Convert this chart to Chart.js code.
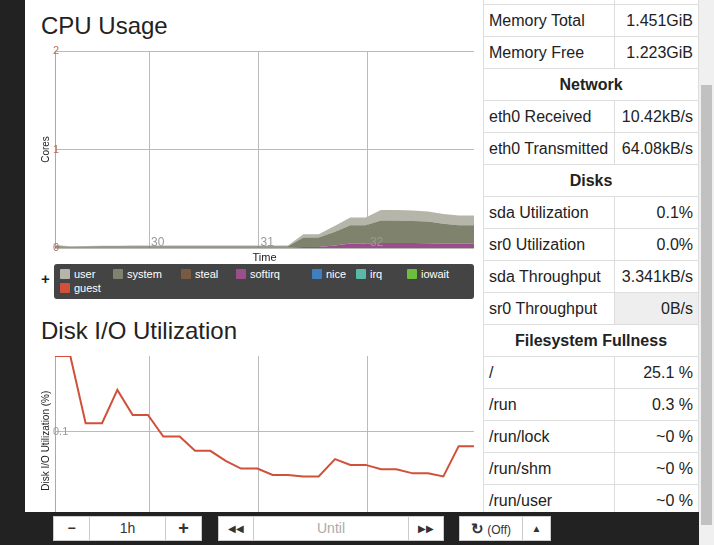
<!DOCTYPE html>
<html>
<head>
<meta charset="utf-8">
<script src="https://cdn.jsdelivr.net/npm/chart.js@4"></script>
<style>
  body { margin:0; width:714px; height:545px; overflow:hidden; background:#fff; font-family:"Liberation Sans", Arial, sans-serif; position:relative; }
  .strip { position:absolute; left:0; top:0; width:25px; height:545px; background:#222; }
  .scroll { position:absolute; left:699px; top:0; width:15px; height:545px; background:#f0f0f0; }
  .thumb { position:absolute; left:701px; top:85px; width:11px; height:440px; background:#c1c1c1; }
  h2 { position:absolute; margin:0; font-weight:normal; font-size:24px; color:#222; left:41px; }
  canvas { position:absolute; }
  #legend { position:absolute; left:54px; top:264px; width:420px; height:35px; background:#444; border-radius:3px; color:#fff; font-size:11px; }
  #legend span { position:absolute; }
  #legend i { display:inline-block; width:10px; height:10px; margin-right:4px; vertical-align:-1px; border-radius:1px; }
  .plus { position:absolute; left:41px; top:270px; font-size:15px; font-weight:bold; color:#123; }
  table { position:absolute; left:483px; top:-28px; width:216px; border-collapse:collapse; font-size:16px; color:#222; }
  td { border:1px solid #ddd; height:32px; padding:0 5px; box-sizing:border-box; white-space:nowrap; }
  td.v { text-align:right; width:84px; }
  td.h { text-align:center; font-weight:bold; }
  .bar { position:absolute; left:25px; top:512px; width:674px; height:33px; background:#222; }
  .btn { position:absolute; top:516px; height:25px; background:#fff; border:1px solid #ccc; box-sizing:border-box; text-align:center; line-height:23px; font-size:14px; color:#333; }
</style>
</head>
<body>
<div class="strip"></div>
<h2 style="top:12px">CPU Usage</h2>
<canvas id="cpu" width="436" height="220" style="left:40px;top:45px;width:436px;height:220px"></canvas>
<div class="plus">+</div>
<div id="legend"></div>
<h2 style="top:317px">Disk I/O Utilization</h2>
<canvas id="disk" width="436" height="180" style="left:40px;top:350px;width:436px;height:180px"></canvas>

<table id="tbl"></table>
<div class="scroll"></div>
<div class="thumb"></div>

<div class="bar"></div>
<div class="btn" style="left:53px;width:37px;font-weight:bold">&minus;</div>
<div class="btn" style="left:89px;width:77px">1h</div>
<div class="btn" style="left:165px;width:37px;font-weight:bold;font-size:18px">+</div>
<div class="btn" style="left:218px;width:36px;font-size:10px">&#9664;&#9664;</div>
<div class="btn" style="left:253px;width:156px;color:#aaa">Until</div>
<div class="btn" style="left:408px;width:36px;font-size:10px">&#9654;&#9654;</div>
<div class="btn" style="left:459px;width:64px;font-size:12px"><b style="font-size:15px">&#8635;</b> (Off)</div>
<div class="btn" style="left:522px;width:29px;font-size:10px">&#9650;</div>

<script>
// shared time axis (x positions of the samples)
const times = [29.14,29.28,29.42,29.57,29.71,29.85,29.99,30.13,30.28,30.42,30.56,30.70,30.84,30.99,
               31.13,31.27,31.41,31.55,31.70,31.84,31.98,32.12,32.26,32.41,32.55,32.69,32.83,32.97];
const timeTicks = [30, 31, 32];

// CPU cores per state
const cpuSoftirq = [0.005,0.005,0.005,0.005,0.005,0.005,0.005,0.005,0.005,0.005,0.005,0.005,0.005,0.005,
                    0.005,0.005,0.01,0.01,0.025,0.045,0.045,0.05,0.05,0.05,0.048,0.046,0.045,0.045];
const cpuSystem  = [0.015,0.008,0.01,0.012,0.012,0.012,0.012,0.012,0.012,0.012,0.012,0.012,0.012,0.012,
                    0.012,0.012,0.097,0.097,0.14,0.185,0.185,0.23,0.23,0.225,0.222,0.2,0.185,0.185];
const cpuUser    = [0.01,0.005,0.005,0.007,0.007,0.008,0.008,0.008,0.008,0.008,0.008,0.008,0.008,0.008,
                    0.008,0.008,0.033,0.033,0.06,0.08,0.08,0.105,0.105,0.105,0.1,0.1,0.1,0.1];
const cpuTicks = [0, 1, 2];

// disk utilization (%)
const diskSda = [0.15,0.15,0.1056,0.1056,0.1276,0.111,0.111,0.0967,0.0967,0.0873,0.0873,0.0807,0.0756,0.0756,
                 0.0713,0.0713,0.0704,0.0704,0.0818,0.078,0.078,0.0751,0.0751,0.0724,0.0724,0.0704,0.0904,0.0904];
const diskTicks = [0.1];

const legendNames = ['user','system','steal','softirq','nice','irq','iowait','guest'];
const legendColors = ['#b5b5aa','#7f826c','#7a5a40','#9b4f8a','#3f7fbf','#5bb8a8','#6cbf3a','#d0503a'];

const tableRows = [
  ['', ''], ['Memory Total','1.451GiB'], ['Memory Free','1.223GiB'], ['Network'],
  ['eth0 Received','10.42kB/s'], ['eth0 Transmitted','64.08kB/s'], ['Disks'],
  ['sda Utilization','0.1%'], ['sr0 Utilization','0.0%'], ['sda Throughput','3.341kB/s'],
  ['sr0 Throughput','0B/s'], ['Filesystem Fullness'], ['/','25.1 %'], ['/run','0.3 %'],
  ['/run/lock','~0 %'], ['/run/shm','~0 %'], ['/run/user','~0 %']
];

// build table
let tbl = document.getElementById('tbl');
for (let r of tableRows) {
  let tr = document.createElement('tr');
  if (r.length === 1) {
    tr.innerHTML = '<td class="h" colspan="2">' + r[0] + '</td>';
  } else {
    let bg = r[0] === 'sr0 Throughput' ? ' style="background:#eee"' : '';
    tr.innerHTML = '<td>' + r[0] + '</td><td class="v"' + bg + '>' + r[1] + '</td>';
  }
  tbl.appendChild(tr);
}

// legend
let legend = document.getElementById('legend');
let lx = [6, 59, 127, 182, 258, 302, 353, 6];
legendNames.forEach((n, i) => {
  let s = document.createElement('span');
  s.style.left = lx[i] + 'px';
  s.style.top = (i < 7 ? 4 : 18) + 'px';
  s.innerHTML = '<i style="background:' + legendColors[i] + '"></i>' + n;
  legend.appendChild(s);
});

// draws the x tick labels just right of each grid line, inside the plot
const innerXLabels = {
  id: 'innerXLabels',
  afterDraw(chart, args, opts) {
    if (!opts.show) return;
    const ctx = chart.ctx, x = chart.scales.x, y = chart.scales.y;
    ctx.save();
    ctx.fillStyle = '#999';
    ctx.font = '12px "Liberation Sans", Arial, sans-serif';
    ctx.textBaseline = 'bottom';
    for (let t of timeTicks) ctx.fillText(String(t), x.getPixelForValue(t) + 2, y.bottom + 1);
    ctx.restore();
  }
};

function pts(vals) { return vals.map((v, i) => ({x: times[i], y: v})); }

function baseOptions(yMin, yMax, yTicks, yTitle, tickColor, xLabels) {
  return {
    animation: false,
    responsive: false,
    layout: { padding: { top: 6, right: 2 } },
    scales: {
      x: {
        type: 'linear', min: 29.14, max: 32.97,
        afterBuildTicks: s => { s.ticks = timeTicks.map(v => ({value: v})); },
        ticks: { display: false },
        grid: { color: '#bbb', drawTicks: false, tickBorderDash: [1, 2] },
        border: { display: false, dash: [1, 2] },
        title: { display: xLabels, text: 'Time', color: '#222', font: { size: 11 }, padding: 0 },
        afterFit: s => { s.height = xLabels ? 17 : 0; }
      },
      y: {
        min: yMin, max: yMax,
        afterBuildTicks: s => { s.ticks = yTicks.map(v => ({value: v})); },
        ticks: { mirror: true, color: tickColor, padding: -2, font: { size: 11 }, z: 1 },
        grid: { color: '#bbb', drawTicks: false },
        border: { display: true, color: '#aaa', dash: [1, 2] },
        title: { display: true, text: yTitle, color: '#222', font: { size: 10 }, padding: 0 },
        afterFit: s => { s.width = 15; }
      }
    },
    plugins: { legend: { display: false }, tooltip: { enabled: false }, innerXLabels: { show: xLabels } }
  };
}

function fixBorders(chart) {
  // solid left axis line, dotted grid
  chart.options.scales.x.grid.borderDash = [1, 2];
}

let cpuOpts = baseOptions(0, 2, cpuTicks, 'Cores', '#b07060', true);
cpuOpts.scales.y.stacked = true;
cpuOpts.scales.y.border = { display: true, color: '#aaa' };
cpuOpts.scales.x.grid.borderDash = [1, 2];
cpuOpts.scales.y.grid.borderDash = [1, 2];
cpuOpts.scales.x.border = { display: false };

new Chart(document.getElementById('cpu'), {
  type: 'line',
  data: {
    datasets: [
      { label: 'softirq', data: pts(cpuSoftirq), backgroundColor: '#9b4f8a', fill: true, stack: 'a' },
      { label: 'system', data: pts(cpuSystem), backgroundColor: '#7f826c', fill: '-1', stack: 'a' },
      { label: 'user', data: pts(cpuUser), backgroundColor: '#b5b5aa', fill: '-1', stack: 'a' }
    ].map(d => Object.assign(d, { borderWidth: 0, pointRadius: 0, tension: 0 }))
  },
  options: cpuOpts,
  plugins: [innerXLabels]
});

let diskOpts = baseOptions(0.038, 0.15, diskTicks, 'Disk I/O Utilization (%)', '#999', false);
diskOpts.scales.y.border = { display: true, color: '#aaa' };
diskOpts.scales.x.border = { display: false };
diskOpts.scales.x.grid.borderDash = [1, 2];
diskOpts.scales.y.grid.borderDash = [1, 2];

new Chart(document.getElementById('disk'), {
  type: 'line',
  data: {
    datasets: [{ label: 'sda', data: pts(diskSda), borderColor: '#d0503a', borderWidth: 2, pointRadius: 0, tension: 0 }]
  },
  options: diskOpts,
  plugins: [innerXLabels]
});
</script>
</body>
</html>
